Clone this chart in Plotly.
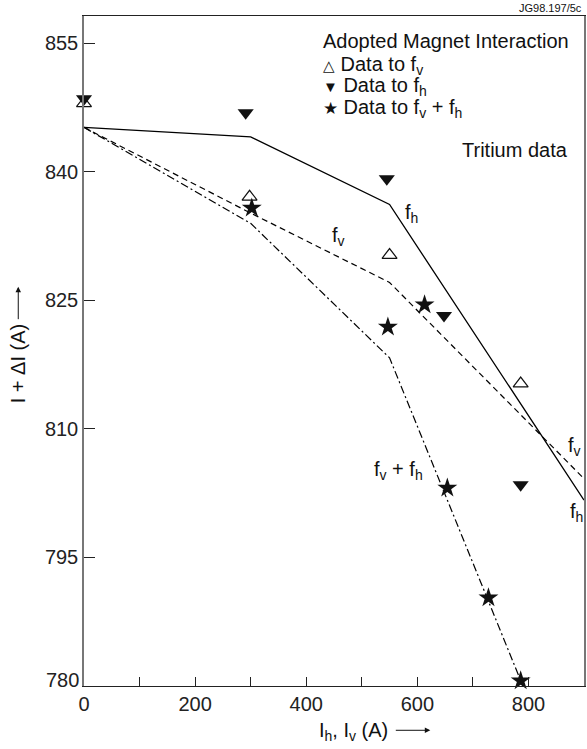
import plotly.graph_objects as go

# ---- data ----
# model lines
line_x_fh = [0, 300, 550, 900]
line_y_fh = [845.2, 844.1, 836.2, 801.7]

line_x_fv = [0, 300, 550, 900]
line_y_fv = [845.2, 835.2, 827.1, 804.2]

line_x_fvfh = [0, 300, 550, 790]
line_y_fvfh = [845.2, 834.0, 818.3, 780.0]

# measured points
fv_x = [0, 298, 550, 786]
fv_y = [848.0, 837.1, 830.3, 815.3]

fh_x = [0, 291, 545, 648, 786]
fh_y = [848.55, 846.9, 839.2, 823.25, 803.5]

fvfh_x = [302, 547, 613, 654, 728, 786]
fvfh_y = [835.8, 821.9, 824.5, 803.1, 790.3, 780.6]

x_major = [0, 200, 400, 600, 800]
y_ticks = [795, 810, 825, 840, 855]
y_bottom_label = 780

FONT = "Liberation Sans, Arial, sans-serif"
FS = 20

fig = go.Figure()

fig.add_trace(go.Scatter(x=line_x_fh, y=line_y_fh, mode="lines",
                         line=dict(color="black", width=1.3), showlegend=False))
fig.add_trace(go.Scatter(x=line_x_fv, y=line_y_fv, mode="lines",
                         line=dict(color="black", width=1.2, dash="6px,4px"), showlegend=False))
fig.add_trace(go.Scatter(x=line_x_fvfh, y=line_y_fvfh, mode="lines",
                         line=dict(color="black", width=1.2, dash="8px,3px,2px,3px"), showlegend=False))

fig.add_trace(go.Scatter(x=fh_x, y=fh_y, mode="markers", cliponaxis=False,
                         marker=dict(symbol="triangle-down", size=14, color="#111",
                                     line=dict(width=0)),
                         showlegend=False))
fig.add_trace(go.Scatter(x=fv_x, y=fv_y, mode="markers", cliponaxis=False,
                         marker=dict(symbol="triangle-up-open", size=13, color="#111",
                                     line=dict(width=1.2, color="#111")),
                         showlegend=False))
fig.add_trace(go.Scatter(x=fvfh_x, y=fvfh_y, mode="markers", cliponaxis=False,
                         marker=dict(symbol="star", size=15, color="#111",
                                     line=dict(width=0)),
                         showlegend=False))

ann = []
def lab(text, x, y, xanchor="center", yanchor="middle", size=FS, xref="x", yref="y",
        angle=0, yshift=0, color="#111"):
    ann.append(dict(text=text, x=x, y=y, xref=xref, yref=yref, showarrow=False,
                    xanchor=xanchor, yanchor=yanchor, textangle=angle, yshift=yshift,
                    font=dict(family=FONT, size=size, color=color)))

def arrow(x, y, ax, ay):
    ann.append(dict(text="", x=x, y=y, xref="paper", yref="paper", showarrow=True,
                    ax=ax, ay=ay, axref="pixel", ayref="pixel",
                    arrowhead=2, arrowsize=1.1, arrowwidth=1, arrowcolor="#111",
                    standoff=0, startstandoff=0))

# curve labels
lab("f<sub>v</sub>", 458, 832.5)
lab("f<sub>h</sub>", 590, 835.2)
lab("f<sub>v</sub> + f<sub>h</sub>", 566, 805.1)
lab("f<sub>v</sub>", 882, 807.9)
lab("f<sub>h</sub>", 887, 800.3)
lab("Tritium data", 874, 842.6, xanchor="right")

# legend block
lab("Adopted Magnet Interaction", 0.473, 0.963, xanchor="left", xref="paper", yref="paper")
lab('<span style="font-size:15px">△</span> Data to f<sub>v</sub>', 0.473, 0.926, xanchor="left", xref="paper", yref="paper")
lab('<span style="font-size:15px">▼</span> Data to f<sub>h</sub>', 0.473, 0.895, xanchor="left", xref="paper", yref="paper")
lab('<span style="font-size:17px">★</span> Data to f<sub>v</sub> + f<sub>h</sub>', 0.473, 0.862, xanchor="left", xref="paper", yref="paper")

# figure id
lab("JG98.197/5c", 1.0, 1.012, xanchor="right", size=11, xref="paper", yref="paper")

# bottom y tick label (sits slightly above the axis in the reference)
lab(str(y_bottom_label), -0.006, y_bottom_label, xanchor="right", xref="paper", yshift=6, color="#222")

# axis titles with long arrows
lab("I + ΔI (A)", -0.1315, 0.4806, angle=-90, xref="paper", yref="paper")
arrow(-0.1315, 0.596, 0, 34)
lab("I<sub>h</sub>, I<sub>v</sub> (A)", 0.466, -0.068, xanchor="left", xref="paper", yref="paper")
arrow(0.6926, -0.0661, -36, 0)

fig.update_layout(
    width=587, height=749,
    margin=dict(l=84, r=1, t=16, b=63),
    plot_bgcolor="white", paper_bgcolor="white",
    font=dict(family=FONT, size=FS, color="#111"),
    annotations=ann,
    showlegend=False,
)
fig.update_xaxes(range=[0, 900], tickvals=x_major,
                 ticks="inside", ticklen=9, tickwidth=1, tickcolor="#222",
                 minor=dict(dtick=100, tick0=0, ticks="inside", ticklen=9,
                            tickwidth=1, tickcolor="#222", showgrid=False),
                 showline=True, linecolor="#222", linewidth=1, mirror=True,
                 showgrid=False, zeroline=False,
                 tickfont=dict(family=FONT, size=FS, color="#222"))
fig.update_yaxes(range=[780, 858.2], tickvals=y_ticks,
                 ticks="inside", ticklen=11, tickwidth=1, tickcolor="#222",
                 showline=True, linecolor="#777", linewidth=1.5, mirror=True,
                 showgrid=False, zeroline=False,
                 tickfont=dict(family=FONT, size=FS, color="#222"))

fig.write_html("out.html", config={"displayModeBar": False},
               post_script="document.body.style.margin='0';document.body.style.overflow='hidden';")
